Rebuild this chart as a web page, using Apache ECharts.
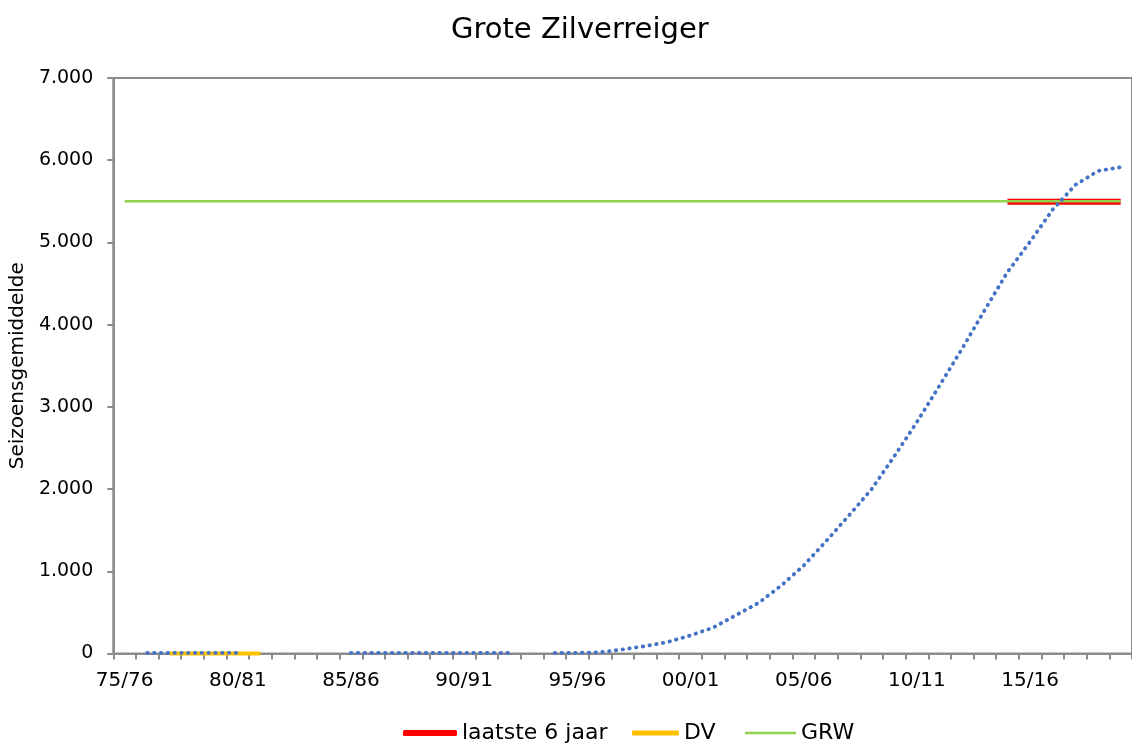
<!DOCTYPE html>
<html>
<head>
<meta charset="utf-8">
<script src="https://cdn.jsdelivr.net/npm/echarts@6/dist/echarts.min.js"></script>
<style>
html,body{margin:0;padding:0;background:#fff;overflow:hidden;}
#c{width:1132px;height:743px;}
</style>
</head>
<body>
<div id="c"></div>
<script>
const seasons = ['75/76','76/77','77/78','78/79','79/80','80/81','81/82','82/83','83/84','84/85',
  '85/86','86/87','87/88','88/89','89/90','90/91','91/92','92/93','93/94','94/95',
  '95/96','96/97','97/98','98/99','99/00','00/01','01/02','02/03','03/04','04/05',
  '05/06','06/07','07/08','08/09','09/10','10/11','11/12','12/13','13/14','14/15',
  '15/16','16/17','17/18','18/19','19/20'];
const trend = [null,8,8,8,8,8,null,null,null,null,
  8,8,8,8,8,8,8,8,null,8,
  8,15,50,90,140,220,315,465,615,825,
  1070,1370,1680,2000,2400,2815,3260,3710,4180,4640,
  5010,5400,5700,5870,5915];
const laatste6 = [null,null,null,null,null,null,null,null,null,null,
  null,null,null,null,null,null,null,null,null,null,
  null,null,null,null,null,null,null,null,null,null,
  null,null,null,null,null,null,null,null,null,5495,
  5495,5495,5495,5495,5495];
const dv = [null,null,0,0,0,0,0,null,null,null,
  null,null,null,null,null,null,null,null,null,null,
  null,null,null,null,null,null,null,null,null,null,
  null,null,null,null,null,null,null,null,null,null,
  null,null,null,null,null];
const grw = seasons.map(() => 5500);
const yTicks = [0,1000,2000,3000,4000,5000,6000,7000];

const FONT = 'DejaVu Sans';
const chart = echarts.init(document.getElementById('c'), null, {renderer:'canvas'});
const fmt = v => String(v).replace(/\B(?=(\d{3})+(?!\d))/g, '.');
const legText = {fontFamily:FONT, fontSize:22, color:'#000'};

chart.setOption({
  animation:false,
  backgroundColor:'#fff',
  title:{text:'Grote Zilverreiger', left:446, top:11,
    textStyle:{fontFamily:FONT, fontSize:29, fontWeight:'normal', color:'#000'}},
  legend:[
    {left:398, top:717, itemWidth:54, itemHeight:6, icon:'roundRect', data:['laatste 6 jaar'], textStyle:legText},
    {left:627, top:717, itemWidth:47, itemHeight:5, icon:'roundRect', data:['DV'], textStyle:legText},
    {left:740, top:717, itemWidth:51, itemHeight:2.5, icon:'rect', data:['GRW'], textStyle:legText}
  ],
  grid:{left:112, top:78, width:1025, height:575.5, show:true, borderColor:'#8c8c8c', borderWidth:2},
  xAxis:{type:'category', data:seasons, boundaryGap:true,
    axisLine:{lineStyle:{color:'#8c8c8c', width:2}},
    axisTick:{show:true, interval:0, length:6, lineStyle:{color:'#8c8c8c', width:2}},
    axisLabel:{interval:4, margin:17, fontFamily:FONT, fontSize:20, color:'#000'},
    splitLine:{show:false}},
  yAxis:{type:'value', min:yTicks[0], max:yTicks[yTicks.length-1], interval:1000,
    name:'Seizoensgemiddelde', nameLocation:'middle', nameGap:84,
    nameTextStyle:{fontFamily:FONT, fontSize:20, color:'#000'},
    axisLine:{show:true, lineStyle:{color:'#8c8c8c', width:2}},
    axisTick:{show:true, length:6, lineStyle:{color:'#8c8c8c', width:2}},
    axisLabel:{margin:20, fontFamily:FONT, fontSize:19, color:'#000', formatter:fmt},
    splitLine:{show:false}},
  series:[
    {name:'laatste 6 jaar', type:'line', data:laatste6, symbol:'none', clip:false,
      lineStyle:{color:'#ff0000', width:6}, itemStyle:{color:'#ff0000'}, z:2},
    {name:'DV', type:'line', data:dv, symbol:'none', clip:false,
      lineStyle:{color:'#ffc000', width:4}, itemStyle:{color:'#ffc000'}, z:3},
    {name:'GRW', type:'line', data:grw, symbol:'none',
      lineStyle:{color:'#92d050', width:2.5}, itemStyle:{color:'#92d050'}, z:4},
    {name:'trend', type:'line', data:trend, symbol:'none', clip:false, connectNulls:false,
      lineStyle:{color:'#4472c4', width:3.8, type:[0.5,6.3], cap:'round'}, z:5}
  ]
});
</script>
</body>
</html>
